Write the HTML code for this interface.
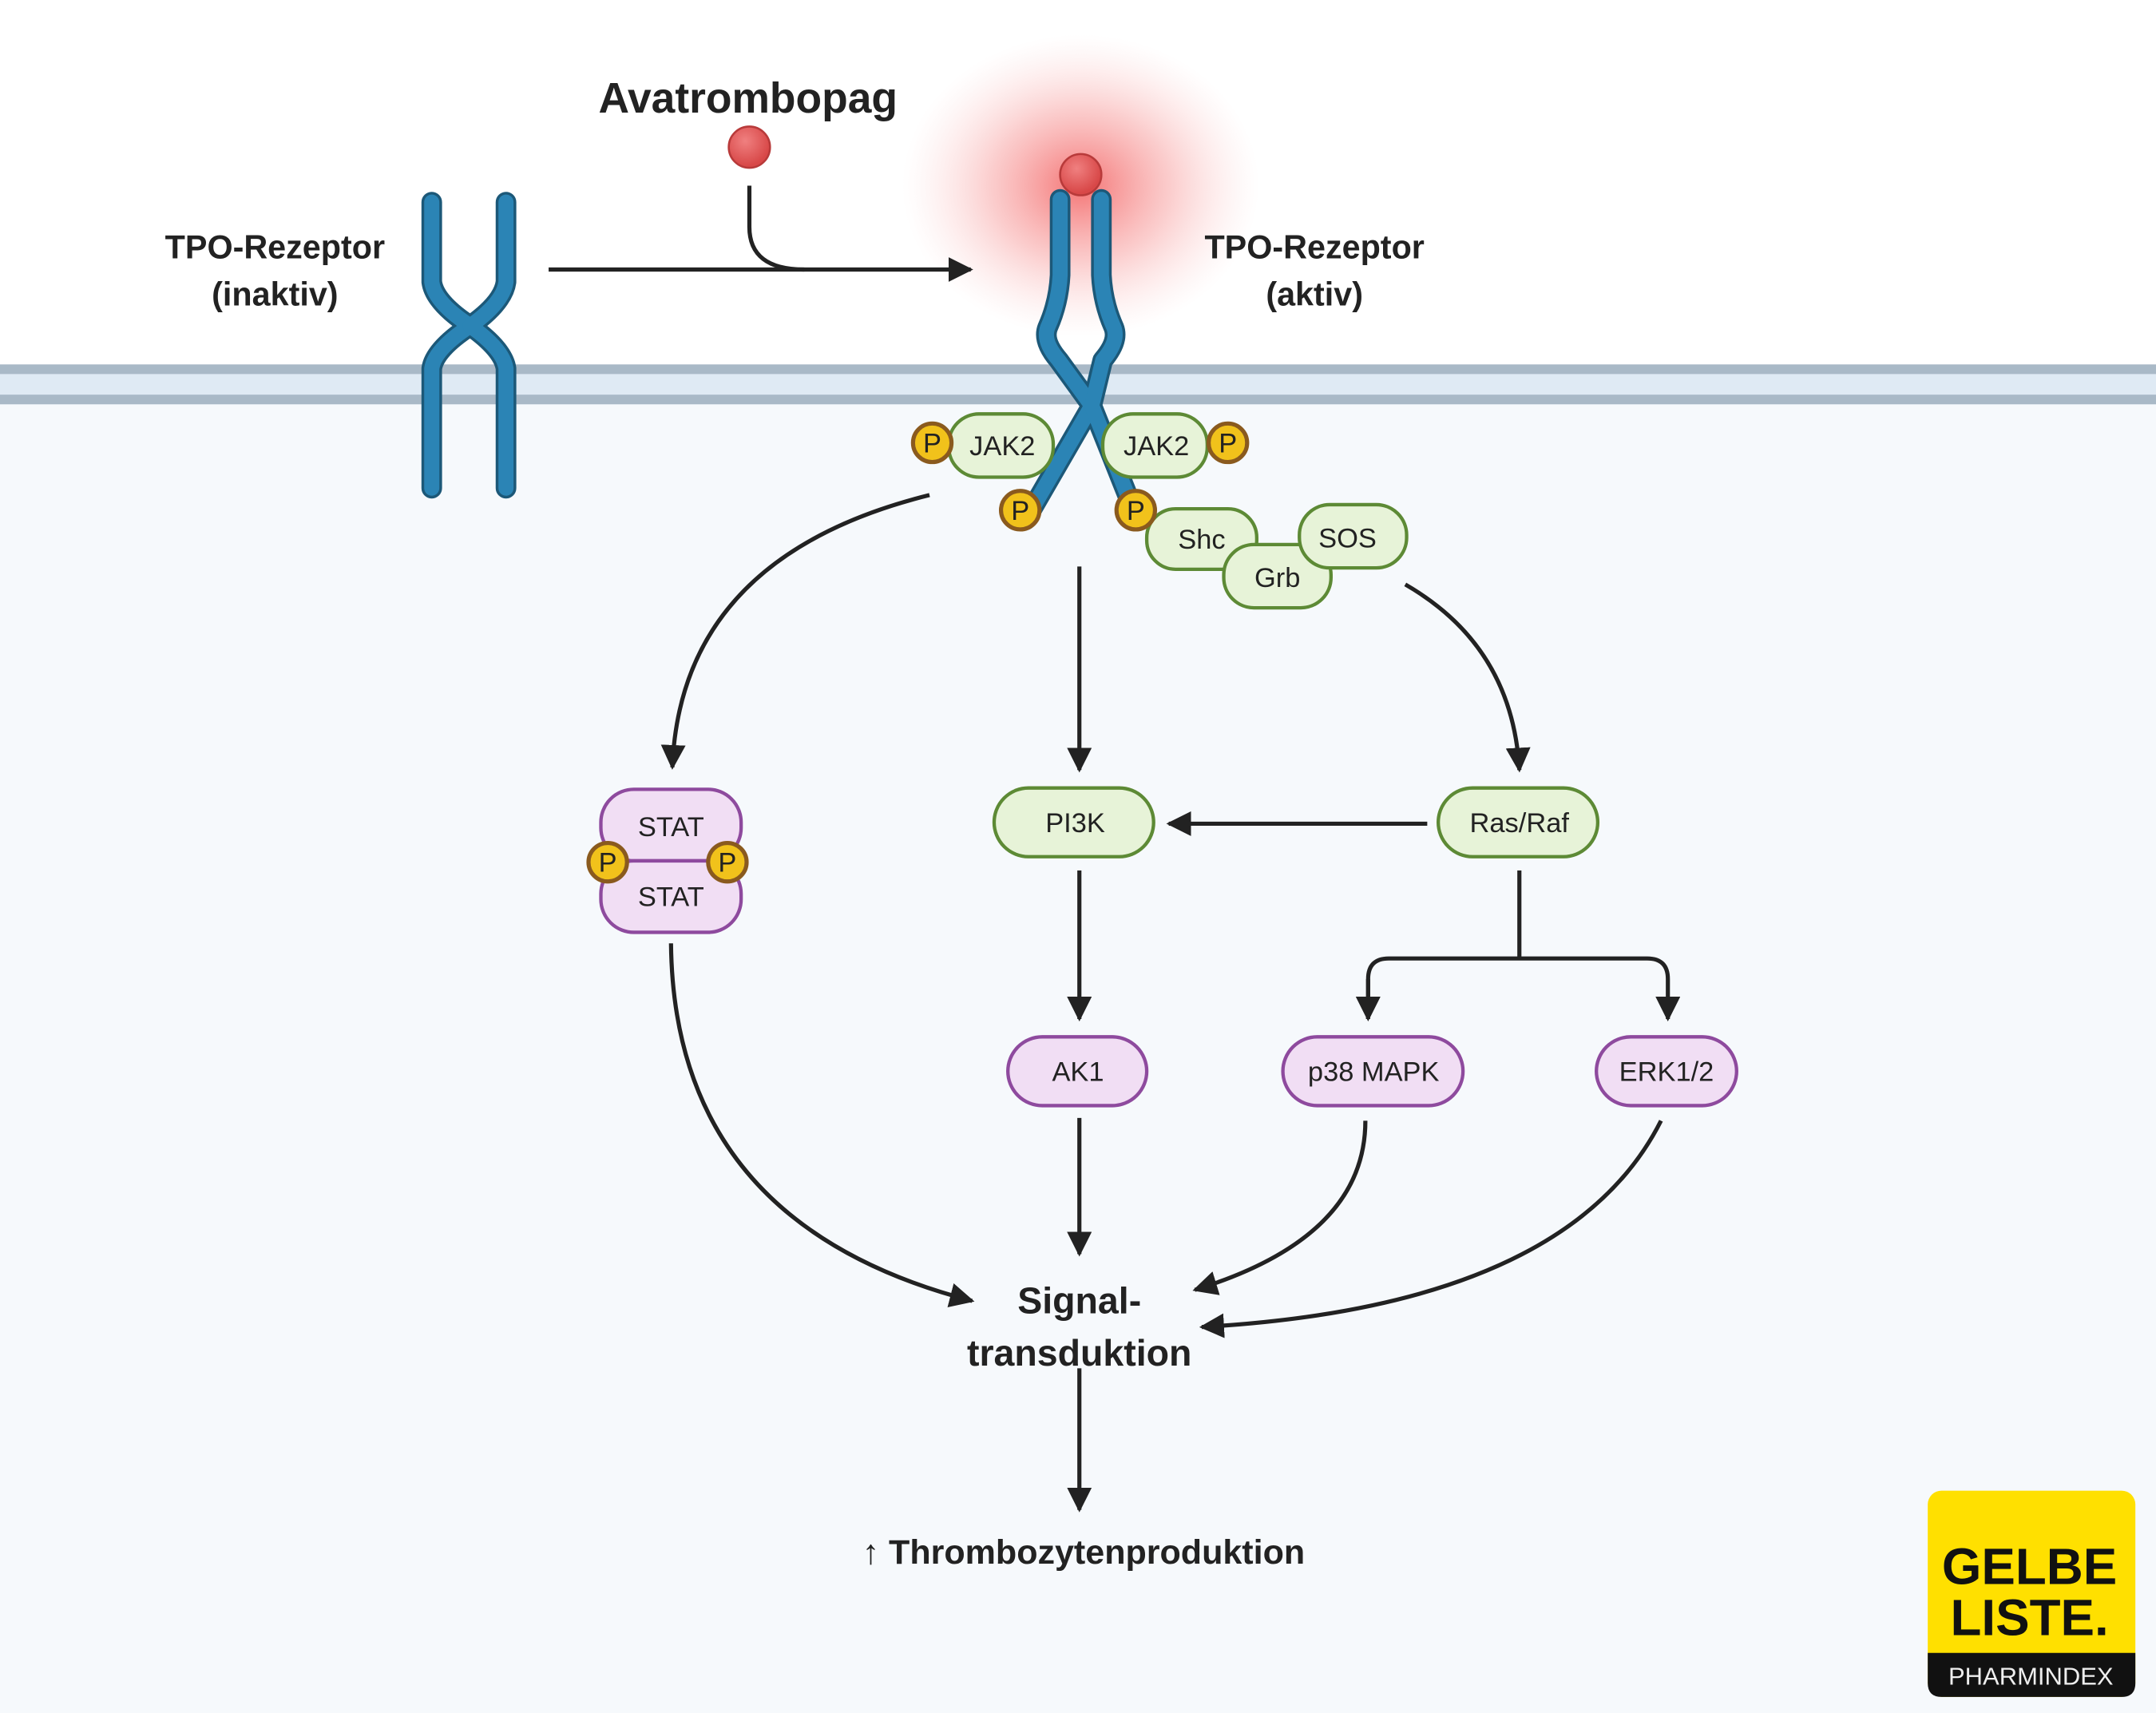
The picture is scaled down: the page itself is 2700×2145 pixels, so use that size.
<!DOCTYPE html>
<html><head><meta charset="utf-8"><style>
html,body{margin:0;padding:0;background:#fff}
svg{display:block}
text{font-family:"Liberation Sans",sans-serif;fill:#222}
</style></head><body>
<svg width="2700" height="2145" viewBox="0 0 1568 1245.7" preserveAspectRatio="none" xmlns="http://www.w3.org/2000/svg">
<defs>
<radialGradient id="glow" cx="0.5" cy="0.5" r="0.5">
<stop offset="0" stop-color="#f25a5a" stop-opacity="0.85"/>
<stop offset="0.5" stop-color="#f79a9a" stop-opacity="0.5"/>
<stop offset="1" stop-color="#fbd0d0" stop-opacity="0"/>
</radialGradient>
<radialGradient id="ball" cx="0.4" cy="0.35" r="0.6">
<stop offset="0" stop-color="#f08080"/><stop offset="1" stop-color="#d84848"/>
</radialGradient>
<marker id="ah" markerWidth="10" markerHeight="10" refX="8" refY="5" orient="auto" markerUnits="userSpaceOnUse">
<path d="M0,0 L10,5 L0,10 Z" fill="#222"/></marker>
<marker id="ah2" viewBox="0 0 10 10" markerWidth="18" markerHeight="18" refX="9" refY="5" orient="auto" markerUnits="userSpaceOnUse">
<path d="M0,0 L10,5 L0,10 Z" fill="#222"/></marker>
</defs>
<rect width="1568" height="1246" fill="#fff"/>
<rect x="0" y="280" width="1568" height="966" fill="#f6f9fc"/>
<!-- membrane -->
<rect x="0" y="266" width="1568" height="28" fill="#dfeaf4"/>
<rect x="0" y="265" width="1568" height="7" fill="#a9b9c7"/>
<rect x="0" y="287" width="1568" height="7" fill="#a9b9c7"/>
<!-- glow -->
<ellipse cx="786" cy="135" rx="130" ry="110" fill="url(#glow)"/>
<!-- inactive receptor -->
<g fill="none" stroke-linecap="round" stroke-linejoin="round">
<path d="M314,147 L314,205 Q316,220 342,237 Q316,254 314,268 L314,355" stroke="#1c5878" stroke-width="15"/>
<path d="M368,147 L368,205 Q366,220 342,237 Q366,254 368,268 L368,355" stroke="#1c5878" stroke-width="15"/>
<path d="M314,147 L314,205 Q316,220 342,237 Q316,254 314,268 L314,355" stroke="#2b84b5" stroke-width="11"/>
<path d="M368,147 L368,205 Q366,220 342,237 Q366,254 368,268 L368,355" stroke="#2b84b5" stroke-width="11"/>
<!-- active receptor -->
<path d="M771,145 L771,200 Q770,220 762,238 Q758,248 770,262 L794,295 L746,378" stroke="#1c5878" stroke-width="15"/>
<path d="M801,145 L801,200 Q802,220 810,238 Q814,248 802,262 L794,295 L826,375" stroke="#1c5878" stroke-width="15"/>
<path d="M771,145 L771,200 Q770,220 762,238 Q758,248 770,262 L794,295 L746,378" stroke="#2b84b5" stroke-width="11"/>
<path d="M801,145 L801,200 Q802,220 810,238 Q814,248 802,262 L794,295 L826,375" stroke="#2b84b5" stroke-width="11"/>
</g>
<circle cx="786" cy="127" r="15" fill="url(#ball)" stroke="#b83a3a" stroke-width="1.5"/>
<circle cx="545" cy="107" r="15" fill="url(#ball)" stroke="#b83a3a" stroke-width="1.5"/>
<!-- top arrows -->
<path d="M545,135 L545,165 Q545,196 585,196" fill="none" stroke="#222" stroke-width="3"/>
<line x1="399" y1="196" x2="706" y2="196" stroke="#222" stroke-width="3" marker-end="url(#ah2)"/>
<text x="544" y="82" font-size="31" font-weight="bold" text-anchor="middle">Avatrombopag</text>
<text x="200" y="188" font-size="24" font-weight="bold" text-anchor="middle">TPO-Rezeptor</text>
<text x="200" y="222" font-size="24" font-weight="bold" text-anchor="middle">(inaktiv)</text>
<text x="956" y="188" font-size="24" font-weight="bold" text-anchor="middle">TPO-Rezeptor</text>
<text x="956" y="222" font-size="24" font-weight="bold" text-anchor="middle">(aktiv)</text>
<!-- green boxes -->
<g fill="#e7f3d8" stroke="#5d8a35" stroke-width="2.5">
<rect x="690" y="301" width="76" height="46" rx="22"/>
<rect x="802" y="301" width="76" height="46" rx="22"/>
<rect x="834" y="370" width="80" height="44" rx="21"/>
<rect x="890" y="396" width="78" height="46" rx="22"/>
<rect x="945" y="367" width="78" height="46" rx="22"/>
<rect x="723" y="573" width="116" height="50" rx="25"/>
<rect x="1046" y="573" width="116" height="50" rx="25"/>
</g>
<g font-size="20" text-anchor="middle">
<text x="729" y="331">JAK2</text><text x="841" y="331">JAK2</text>
<text x="874" y="399">Shc</text><text x="929" y="427">Grb</text><text x="980" y="398">SOS</text>
<text x="782" y="605">PI3K</text><text x="1105" y="605">Ras/Raf</text>
</g>
<!-- purple boxes -->
<g fill="#f1def4" stroke="#8e4a9e" stroke-width="2.5">
<rect x="437" y="574" width="102" height="52" rx="24"/>
<rect x="437" y="626" width="102" height="52" rx="24"/>
<rect x="733" y="754" width="101" height="50" rx="25"/>
<rect x="933" y="754" width="131" height="50" rx="25"/>
<rect x="1161" y="754" width="102" height="50" rx="25"/>
</g>
<g font-size="20" text-anchor="middle">
<text x="488" y="608">STAT</text><text x="488" y="659">STAT</text>
<text x="784" y="786">AK1</text><text x="999" y="786">p38 MAPK</text><text x="1212" y="786">ERK1/2</text>
</g>
<!-- P circles -->
<g fill="#f1c21b" stroke="#8a5a1e" stroke-width="3">
<circle cx="678" cy="322" r="14"/><circle cx="893" cy="322" r="14"/>
<circle cx="742" cy="371" r="14"/><circle cx="826" cy="371" r="14"/>
<circle cx="442" cy="627" r="14"/><circle cx="529" cy="627" r="14"/>
</g>
<g font-size="20" text-anchor="middle">
<text x="678" y="329">P</text><text x="893" y="329">P</text>
<text x="742" y="378">P</text><text x="826" y="378">P</text>
<text x="442" y="634">P</text><text x="529" y="634">P</text>
</g>
<!-- pathway arrows -->
<g fill="none" stroke="#222" stroke-width="3">
<path d="M676,360 Q495,405 489,558" marker-end="url(#ah2)"/>
<path d="M785,412 L785,560" marker-end="url(#ah2)"/>
<path d="M1022,425 Q1100,470 1105,560" marker-end="url(#ah2)"/>
<path d="M1038,599 L850,599" marker-end="url(#ah2)"/>
<path d="M785,633 L785,741" marker-end="url(#ah2)"/>
<path d="M1105,633 L1105,697"/>
<path d="M995,741 L995,712 Q995,697 1010,697 L1198,697 Q1213,697 1213,712 L1213,741" marker-end="url(#ah2)"/>
<path d="M995,712 L995,741" marker-end="url(#ah2)"/>
<path d="M785,813 L785,912" marker-end="url(#ah2)"/>
<path d="M488,686 Q490,890 707,946" marker-end="url(#ah2)"/>
<path d="M993,815 Q993,900 869,938" marker-end="url(#ah2)"/>
<path d="M1208,815 Q1140,950 874,965" marker-end="url(#ah2)"/>
<path d="M785,995 L785,1098" marker-end="url(#ah2)"/>
</g>
<text x="785" y="955" font-size="27" font-weight="bold" text-anchor="middle">Signal-</text>
<text x="785" y="993" font-size="27" font-weight="bold" text-anchor="middle">transduktion</text>
<text x="788" y="1137" font-size="25" font-weight="bold" text-anchor="middle">↑ Thrombozytenproduktion</text>
<!-- logo -->
<rect x="1402" y="1084" width="151" height="150" rx="10" fill="#ffe000"/>
<path d="M1402,1202 L1553,1202 L1553,1224 Q1553,1234 1543,1234 L1412,1234 Q1402,1234 1402,1224 Z" fill="#111"/>
<text x="1476" y="1152" font-size="37" font-weight="bold" text-anchor="middle" style="fill:#111">GELBE</text>
<text x="1476" y="1189" font-size="37" font-weight="bold" text-anchor="middle" style="fill:#111">LISTE.</text>
<text x="1477" y="1225" font-size="18" text-anchor="middle" style="fill:#eee">PHARMINDEX</text>
</svg>
</body></html>
